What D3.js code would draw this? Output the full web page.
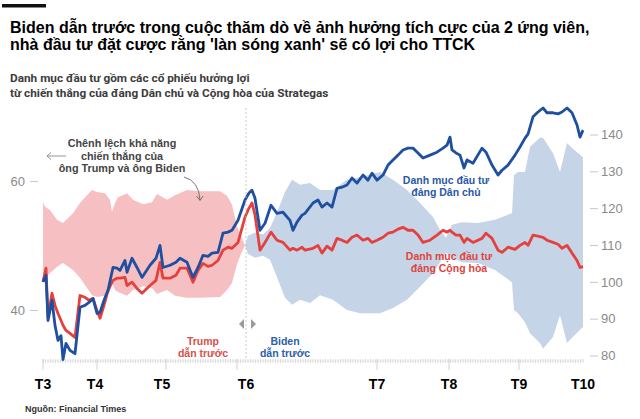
<!DOCTYPE html>
<html>
<head>
<meta charset="utf-8">
<script src="https://cdn.jsdelivr.net/npm/d3@7"></script>
<style>
  body { margin: 0; background: #fff; }
  svg { display: block; font-family: "Liberation Sans", Arial, sans-serif; }
</style>
</head>
<body>
<svg id="canvas" width="640" height="419"></svg>
<script>
// ngày tính từ đầu chuỗi (trục x)
const days = [0, 1.2, 2, 3.6, 4.8, 6, 7.2, 8, 9.2, 10.8, 12.8, 14.8, 16.8, 18.4, 20, 21.6, 22.8, 24.4, 26, 28,
  29.6, 30.8, 32.8, 33.6, 35.6, 37.6, 39.6, 42.8, 45.2, 46.8, 48, 50.8, 53.2, 54.8, 57.6, 60, 62, 64, 66, 67.6,
  70, 72, 74, 75.6, 78, 80.8, 82.4, 83.6, 84.8, 86.8, 88.8, 91.2, 93.6, 96, 98.8, 100, 101.6, 103.6, 104.8, 108,
  110, 111.6, 113.6, 115.6, 117.6, 119.6, 121.6, 123.6, 125.6, 128, 130, 131.6, 133.6, 136, 138, 140, 142, 144, 146, 148,
  150, 152, 154.8, 157.6, 160, 161.6, 162.8, 163.6, 165.2, 166.8, 168.4, 169.6, 172, 175.6, 177.2, 179.6, 182, 183.6, 186, 188.8,
  190.8, 192.8, 194, 196, 198, 200, 201.6, 204, 206, 207.6, 209.6, 211.6, 213.6, 214.8, 216]
const demPortfolio = [100, 101.8, 89.5, 95, 88.2, 84.1, 85.4, 78.9, 83.3, 81.4, 80.5, 93.1, 93.6, 94.4, 95.5, 91.4, 91.7, 95, 97.7, 103.9,
  103.7, 103.1, 105.8, 102.6, 106.4, 103.9, 101.2, 104.5, 106.4, 109.9, 103.9, 104.5, 105.3, 106.4, 105.3, 101.2, 103.9, 107.2, 106.9, 107.8,
  108, 113.2, 113.5, 114, 116.7, 122.2, 124.1, 124.9, 122.7, 114, 115.9, 120.8, 118.6, 118.9, 116.7, 114, 116.2, 118.1, 118.6, 121.4,
  122.2, 120.3, 121.4, 120.3, 125.4, 125.7, 126.3, 128.2, 126.8, 129, 127.6, 129.5, 127.6, 129, 131.7, 133.1, 134.4, 135.8, 136.3, 136.3,
  135, 133.6, 134.4, 135.2, 136.3, 137.1, 139.3, 135.8, 135, 134.4, 130.9, 133.1, 132.2, 136.3, 135.2, 131.7, 129, 130.3, 131.7, 134.4,
  136.6, 139, 140.1, 144.8, 146.1, 147.2, 145.9, 145.9, 145.6, 146.1, 147.2, 145.9, 142.6, 139.3, 141.2]
const repPortfolio = [100, 103.7, 90.3, 96.9, 93.6, 91.4, 89.5, 88.2, 86.8, 86, 84.9, 96.3, 95.8, 95, 95.5, 92.2, 90.1, 93.6, 97.7, 100.4,
  101, 101, 101.2, 99, 99.9, 98.2, 96.9, 99, 100.4, 105.3, 101, 101, 101.8, 103.7, 103.7, 99.9, 103.1, 105, 104.2, 104.5,
  105.8, 108.6, 109.4, 109.1, 110.7, 117.6, 120, 121.4, 118.1, 108.6, 110.7, 113.5, 111.3, 110.7, 108.6, 109.1, 108.6, 109.4, 108.6, 109.1,
  109.9, 107.8, 109.7, 108.6, 111.8, 111.3, 110.7, 112.1, 112.7, 111.3, 111.8, 110.7, 111.3, 112.1, 113.2, 113.5, 114.3, 114.8, 114, 114,
  112.7, 110.7, 111.3, 112.7, 114, 113.5, 114, 113.5, 112.7, 112.7, 110.7, 111.8, 110.7, 111.8, 113.2, 111.8, 108.6, 108, 109.4, 108.8,
  109.9, 110.7, 109.9, 112.7, 112.4, 112.1, 111.3, 110.7, 110.2, 109.1, 109.9, 107.8, 105.8, 103.9, 104.1]

// khả năng chiến thắng (%)
const oddsDays = [0, 0.8, 2.8, 5.6, 8, 12, 14.8, 17.6, 19.6, 21.6, 24.8, 26.8, 27.6, 28.8, 30, 33.6, 36, 40, 43.6, 45.6,
  49.6, 52.8, 57.6, 62.8, 70.8, 73.6, 75.6, 77.6, 79.2, 80.8, 82, 84.8, 88, 90.8, 94, 96.8, 99.6, 102.8, 106.8, 110.8,
  116, 121.6, 126.8, 134.8, 140, 145.6, 150.8, 156, 158.8, 161.2, 163.6, 167.6, 174, 180.8, 187.6, 188.4, 190, 192.8, 194.8, 198.8,
  200, 204, 206.8, 209.6, 211.6, 216]
const trumpOdds = [56.7, 56, 55.5, 54, 53.5, 55, 56.6, 57.8, 58.6, 58.3, 58.1, 57.1, 55.2, 56.6, 57.5, 58.1, 57.1, 56.4, 56.7, 58,
  57.1, 57.8, 58.6, 58.4, 58.4, 57.7, 56.3, 53, 51.5, 50, 48.7, 48.1, 48.4, 47.8, 44.7, 41.9, 40.8, 41.6, 41.1, 42.3,
  41.6, 40, 39.5, 39.5, 40.3, 41.6, 43.6, 45.7, 47.4, 48.9, 48.1, 47.4, 47.3, 46.2, 44.3, 40, 39.5, 38.1, 36.4, 34.9,
  34, 35.8, 39.2, 34.9, 35.7, 37.4]
const bidenOdds = [44.5, 45, 45.7, 46.7, 47.3, 46.2, 45, 43.4, 42.3, 42, 42.2, 42.8, 44.3, 43.1, 42.8, 42.2, 43.1, 43.7, 43.4, 42.5,
  43.1, 42.2, 41.9, 41.9, 42, 43.1, 44.2, 47.1, 48.7, 50, 51.5, 52, 51.7, 52.7, 55.5, 58.3, 60.2, 59.4, 59.7, 58.6,
  58.6, 60.2, 60.6, 61.4, 60.2, 58.6, 56.6, 54.4, 52.4, 51.2, 53.2, 53.6, 53.5, 54, 55, 60.9, 61.4, 61.4, 65.3, 66.7,
  66.7, 64.3, 61.4, 65.9, 65.1, 63.7]
const crossDay = 80.8

const monthLabels = ["T3", "T4", "T5", "T6", "T7", "T8", "T9", "T10"]
const monthLabelDays = [0, 20.8, 47.6, 81.2, 133.6, 162.4, 190.4, 216]
const monthTickDays = [0, 21.6, 49.2, 77.6, 133.6, 162.4, 190.4]
const rightTicks = [80, 90, 100, 110, 120, 130, 140]
const leftTicks = [40, 60]

const blue = "#1f4fa0"
const red = "#e5403d"
const font = "'Liberation Sans', Arial, sans-serif"

const canvas = d3.select("#canvas")

const x = d3.scaleLinear().domain([0, 216]).range([43, 583])
const yRight = d3.scaleLinear().domain([80, 140]).range([355.5, 134.5])
const yLeft = d3.scaleLinear().domain([40, 60]).range([310, 181])

const addText = (g, lines, px, py, opts) => {
  const t = g.append("text")
    .attr("x", px).attr("y", py)
    .attr("font-size", opts.size)
    .attr("font-weight", opts.weight || "bold")
    .attr("fill", opts.color)
    .attr("text-anchor", opts.anchor || "start")
  if (opts.family) t.attr("font-family", opts.family)
  lines.forEach((line, i) => {
    t.append("tspan").attr("x", px).attr("dy", i === 0 ? 0 : opts.lh).text(line)
  })
  return t
}

const drawHeader = () => {
  canvas.append("rect").attr("x", 2).attr("y", 4).attr("width", 44).attr("height", 3.5).attr("fill", "#111")
  addText(canvas, ["Biden dẫn trước trong cuộc thăm dò về ảnh hưởng tích cực của 2 ứng viên,",
    "nhà đầu tư đặt cược rằng 'làn sóng xanh' sẽ có lợi cho TTCK"], 10, 33, {size: 16, color: "#000", lh: 17})
  addText(canvas, ["Danh mục đầu tư gồm các cổ phiếu hưởng lợi",
    "từ chiến thắng của đảng Dân chủ và Cộng hòa của Strategas"], 10, 82,
    {size: 11.8, color: "#3c3c3c", lh: 15, family: "Roboto, 'Liberation Sans', sans-serif"})
  addText(canvas, ["Nguồn: Financial Times"], 25, 412, {size: 9, color: "#333"})
}

const drawBands = () => {
  const odds = oddsDays.map((d, i) => ({day: d, trump: trumpOdds[i], biden: bidenOdds[i]}))
  const area = d3.area()
    .x(d => x(d.day))
    .y0(d => yLeft(d.trump))
    .y1(d => yLeft(d.biden))
  canvas.append("path")
    .datum(odds.filter(d => d.day <= crossDay))
    .attr("d", area)
    .attr("fill", "#f6c0c3")
  canvas.append("path")
    .datum(odds.filter(d => d.day >= crossDay))
    .attr("d", area)
    .attr("fill", "#c5d4e6")
}

const drawAxes = () => {
  const right = canvas.append("g")
    .attr("transform", "translate(590,0)")
    .call(d3.axisRight(yRight).tickValues(rightTicks).tickSize(8).tickPadding(3))
  const left = canvas.append("g")
    .attr("transform", "translate(38,0)")
    .call(d3.axisLeft(yLeft).tickValues(leftTicks).tickSize(8).tickPadding(5))
  ;[right, left].forEach(g => {
    g.select(".domain").remove()
    g.selectAll(".tick line").attr("stroke", "#c8c8c8")
    g.selectAll(".tick text").attr("fill", "#8a8a8a").attr("font-size", 13).attr("font-family", font)
  })

  // trục thời gian
  const axis = canvas.append("g")
  axis.append("line").attr("x1", x(0)).attr("x2", x(216)).attr("y1", 361).attr("y2", 361)
    .attr("stroke", "#e2e2e2").attr("stroke-width", 0.6)
  axis.selectAll(".minor").data(d3.range(0, 217)).enter().append("line")
    .attr("x1", d => x(d)).attr("x2", d => x(d))
    .attr("y1", 359).attr("y2", 363)
    .attr("stroke", "#cfcfcf").attr("stroke-width", 0.7)
  axis.selectAll(".major").data(monthTickDays).enter().append("line")
    .attr("x1", d => x(d)).attr("x2", d => x(d))
    .attr("y1", 359).attr("y2", 370)
    .attr("stroke", "#c8c8c8").attr("stroke-width", 0.8)
  axis.selectAll(".month").data(monthLabels).enter().append("text")
    .attr("x", (d, i) => x(monthLabelDays[i]))
    .attr("y", 389)
    .attr("text-anchor", "middle")
    .attr("font-size", 14).attr("font-weight", "bold").attr("fill", "#000")
    .text(d => d)
}

const drawLines = () => {
  const line = vals => d3.line()
    .x((d, i) => x(days[i]))
    .y(d => yRight(d))(vals)
  canvas.append("path").attr("d", line(repPortfolio))
    .attr("fill", "none").attr("stroke", red).attr("stroke-width", 2.8).attr("stroke-linejoin", "round")
  canvas.append("path").attr("d", line(demPortfolio))
    .attr("fill", "none").attr("stroke", blue).attr("stroke-width", 2.8).attr("stroke-linejoin", "round")
}

const drawNotes = () => {
  const cx = x(81.2)
  canvas.append("line").attr("x1", cx).attr("x2", cx).attr("y1", 108).attr("y2", 360)
    .attr("stroke", "#bdbdbd").attr("stroke-width", 0.8).attr("stroke-dasharray", "2,2")
  canvas.append("path").attr("d", `M${cx - 2},319 L${cx - 7},324 L${cx - 2},329 Z`).attr("fill", "#9a9a9a")
  canvas.append("path").attr("d", `M${cx + 5},319 L${cx + 10},324 L${cx + 5},329 Z`).attr("fill", "#9a9a9a")

  addText(canvas, ["Trump", "dẫn trước"], 203, 345, {size: 10.5, color: "#d9504a", anchor: "middle", lh: 12.2})
  addText(canvas, ["Biden", "dẫn trước"], 285, 345, {size: 10.5, color: "#2e5ea8", anchor: "middle", lh: 12.2})

  addText(canvas, ["Chênh lệch khả năng", "chiến thắng của", "ông Trump và ông Biden"], 122, 147,
    {size: 10.8, color: "#444", anchor: "middle", lh: 12.5})
  canvas.append("path").attr("d", "M66,156 L47,156 M51,152.5 L47,156 L51,159.5")
    .attr("fill", "none").attr("stroke", "#8a8a8a").attr("stroke-width", 0.9)
  canvas.append("path").attr("d", "M184,177 Q199,181 200,200 M196.5,196 L200,200.5 L203,196")
    .attr("fill", "none").attr("stroke", "#666").attr("stroke-width", 0.9)

  addText(canvas, ["Danh mục đầu tư", "đảng Dân chủ"], 446, 184, {size: 10.5, color: "#2a58a8", anchor: "middle", lh: 12.2})
  addText(canvas, ["Danh mục đầu tư", "đảng Cộng hòa"], 449, 260, {size: 10.5, color: "#e0443f", anchor: "middle", lh: 12.2})
}

drawHeader()
drawBands()
drawAxes()
drawLines()
drawNotes()
</script>
</body>
</html>
